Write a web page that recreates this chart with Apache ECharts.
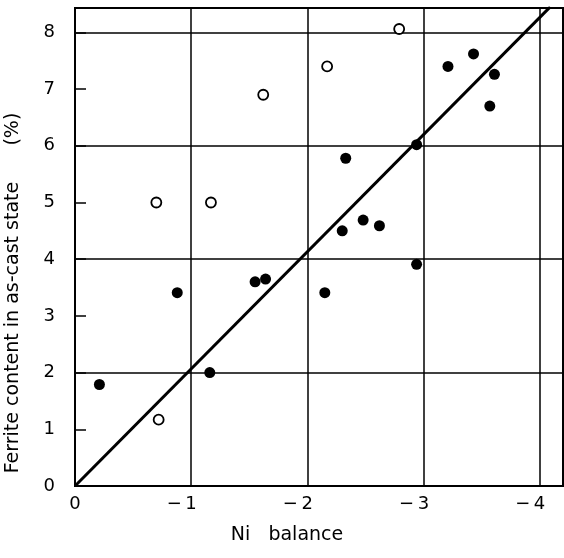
<!DOCTYPE html>
<html>
<head>
<meta charset="utf-8">
<script src="https://cdn.jsdelivr.net/npm/echarts@6/dist/echarts.min.js"></script>
<style>html,body{margin:0;padding:0;background:#fff}#c{width:564px;height:558px}</style>
</head>
<body>
<div id="c"></div>
<script>
// Ni balance (x) and ferrite content (%) (y)
const filledX = [-0.21, -0.88, -1.16, -1.55, -1.64, -2.15, -2.94, -2.33, -2.30, -2.48, -2.62, -2.94, -3.21, -3.43, -3.61, -3.57];
const filledY = [1.79, 3.41, 2.0, 3.60, 3.65, 3.41, 3.91, 5.78, 4.50, 4.69, 4.59, 6.02, 7.40, 7.62, 7.26, 6.70];
const openX = [-0.70, -1.17, -1.62, -2.17, -2.79, -0.72];
const openY = [5.0, 5.0, 6.9, 7.4, 8.06, 1.17];
const fitX = [0, -4.09];
const fitY = [0, 8.45];
const xTicks = [0, -1, -2, -3, -4];
const yTicks = [0, 1, 2, 3, 4, 5, 6, 7, 8];

const FONT = 'DejaVu Sans';
const zip = (a, b) => a.map((v, i) => [v, b[i]]);

const chart = echarts.init(document.getElementById('c'), null, {renderer: 'canvas'});
chart.setOption({
  animation: false,
  backgroundColor: '#fff',
  grid: {left: 75, right: 1, top: 8, bottom: 72, show: true, borderColor: '#000', borderWidth: 2,
    backgroundColor: 'transparent', outerBoundsMode: 'none', containLabel: false},
  xAxis: {
    type: 'value', inverse: true, min: -4.2, max: 0, minInterval: 1, maxInterval: 1,
    axisLine: {show: true, lineStyle: {color: '#000', width: 2}},
    axisTick: {show: false},
    splitLine: {show: true, lineStyle: {color: '#000', width: 1.5}},
    axisLabel: {
      color: '#000', fontFamily: FONT, fontSize: 18, margin: 9,
      formatter: v => xTicks.includes(v) ? (v === 0 ? '0' : '{n|\u2212\u2009' + Math.abs(v) + '}{s|}') : '',
      rich: {
        n: {fontFamily: FONT, fontSize: 18, color: '#000'},
        s: {width: 19, fontSize: 18}
      }
    },
    name: 'Ni   balance', nameLocation: 'middle', nameGap: 40,
    nameTextStyle: {color: '#000', fontFamily: FONT, fontSize: 19, padding: [0, 64, 0, 0]}
  },
  yAxis: [{
    type: 'value', min: 0, max: 8.43, interval: 1,
    axisLine: {show: true, lineStyle: {color: '#000', width: 2}},
    axisTick: {show: true, inside: true, length: 11, lineStyle: {color: '#000', width: 1.5}},
    splitLine: {show: false},
    axisLabel: {color: '#000', fontFamily: FONT, fontSize: 18, margin: 20,
      formatter: v => yTicks.includes(v) ? String(v) : ''},
    name: 'Ferrite content in as-cast state      (%)', nameLocation: 'middle', nameGap: 52,
    nameTextStyle: {color: '#000', fontFamily: FONT, fontSize: 19, padding: [0, 92, 0, 0]}
  }, {
    type: 'value', min: 0, max: 8.43, interval: 2, position: 'left',
    axisLine: {show: false}, axisTick: {show: false}, axisLabel: {show: false},
    splitLine: {show: true, lineStyle: {color: '#000', width: 1.5}}
  }],
  series: [{
    type: 'line', data: zip(fitX, fitY), showSymbol: false, symbol: 'none',
    lineStyle: {color: '#000', width: 3}, z: 3, clip: true
  }, {
    type: 'scatter', data: zip(filledX, filledY), symbol: 'circle', symbolSize: 11,
    itemStyle: {color: '#000', opacity: 1}, z: 5
  }, {
    type: 'scatter', data: zip(openX, openY), symbol: 'circle', symbolSize: 10,
    itemStyle: {color: '#fff', borderColor: '#000', borderWidth: 1.8, opacity: 1}, z: 5
  }]
});
</script>
</body>
</html>
